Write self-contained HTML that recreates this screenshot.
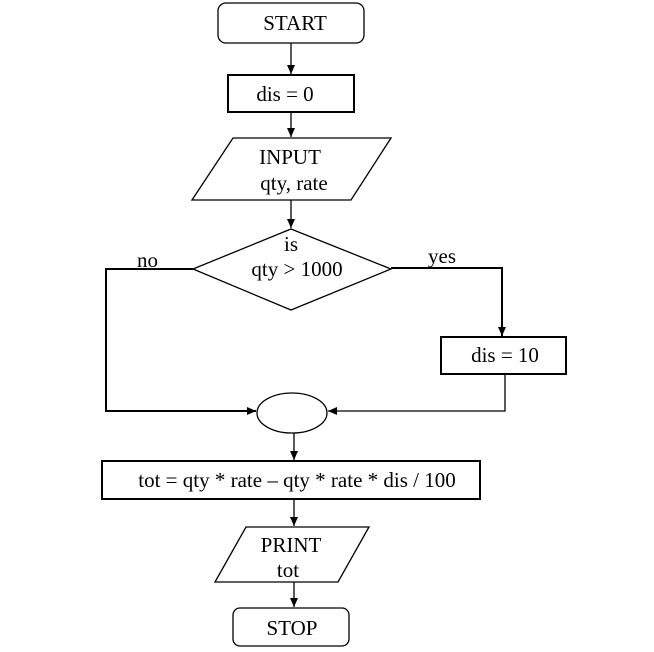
<!DOCTYPE html>
<html><head><meta charset="utf-8"><style>
html,body{margin:0;padding:0;background:#fff;}
svg{display:block;}
text{font-family:"Liberation Serif",serif;font-size:21px;fill:#000;}
</style></head><body>
<svg width="654" height="652" viewBox="0 0 654 652" xmlns="http://www.w3.org/2000/svg">
<defs><marker id="a" markerWidth="10" markerHeight="10" refX="9" refY="5" orient="auto" markerUnits="userSpaceOnUse"><path d="M0,1 L9,5 L0,9 Z" fill="#000"/></marker></defs>
<g fill="none" stroke="#000" stroke-width="1.3">
<rect x="218" y="3" width="146" height="40" rx="8"/>
<rect x="228" y="75" width="126" height="37" stroke-width="2"/>
<polygon points="233,138 391,138 351,200 192,200"/>
<polygon points="291,229 391,269 291,310 193,269"/>
<rect x="441" y="337" width="125" height="37" stroke-width="2"/>
<ellipse cx="292" cy="413" rx="35" ry="20"/>
<rect x="102" y="461" width="378" height="38" stroke-width="2"/>
<polygon points="246,527 369,527 338,582 215,582"/>
<rect x="233" y="608" width="116" height="38" rx="7"/>
<line x1="291" y1="43" x2="291" y2="74" marker-end="url(#a)"/>
<line x1="291" y1="112" x2="291" y2="137" marker-end="url(#a)"/>
<line x1="291" y1="200" x2="291" y2="228" marker-end="url(#a)"/>
<polyline points="193,269 106,269 106,411 256,411" marker-end="url(#a)" stroke-width="2"/>
<polyline points="391,268 502,268 502,336" marker-end="url(#a)" stroke-width="2"/>
<polyline points="505,374 505,411 328,411" marker-end="url(#a)"/>
<line x1="294" y1="433" x2="294" y2="460" marker-end="url(#a)"/>
<line x1="294" y1="499" x2="294" y2="526" marker-end="url(#a)"/>
<line x1="294" y1="582" x2="294" y2="607" marker-end="url(#a)"/>
</g>
<text x="295" y="30" text-anchor="middle">START</text>
<text x="285" y="101" text-anchor="middle">dis = 0</text>
<text x="290" y="164" text-anchor="middle">INPUT</text>
<text x="294" y="190" text-anchor="middle">qty, rate</text>
<text x="291" y="251" text-anchor="middle">is</text>
<text x="297" y="276" text-anchor="middle">qty &gt; 1000</text>
<text x="137" y="267">no</text>
<text x="428" y="263">yes</text>
<text x="505" y="362" text-anchor="middle">dis = 10</text>
<text x="297" y="487" text-anchor="middle">tot = qty * rate – qty * rate * dis / 100</text>
<text x="291" y="552" text-anchor="middle">PRINT</text>
<text x="288" y="577" text-anchor="middle">tot</text>
<text x="292" y="635" text-anchor="middle">STOP</text>
</svg>
</body></html>
